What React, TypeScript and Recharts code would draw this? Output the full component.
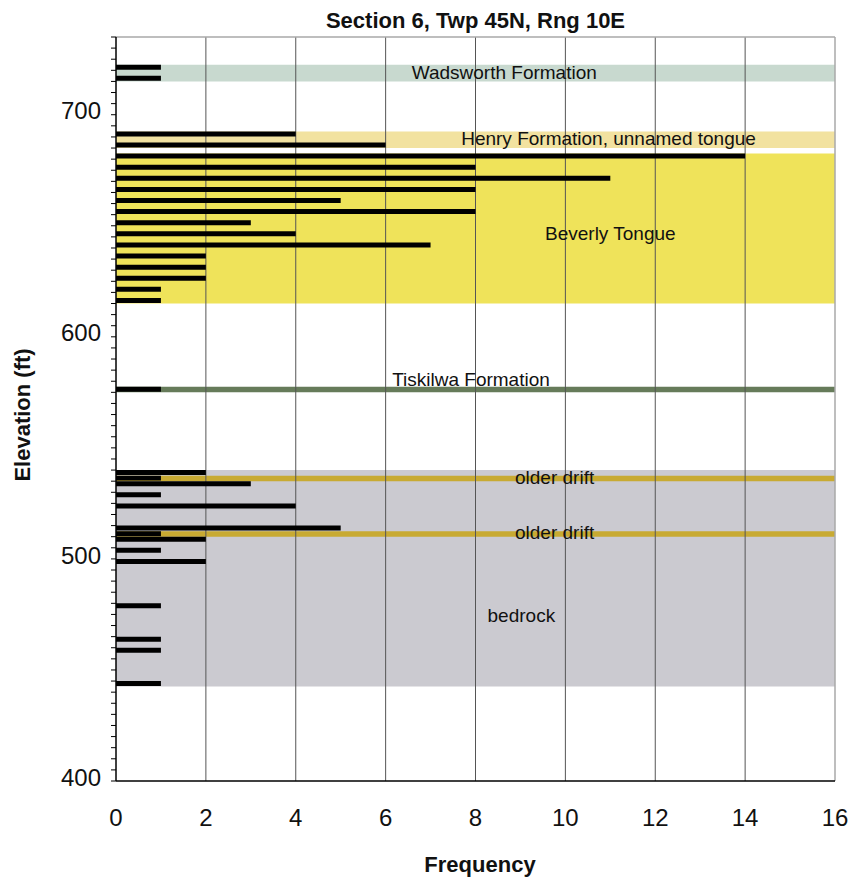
import React from "react";
import {
  BarChart,
  Bar,
  XAxis,
  YAxis,
  ReferenceArea,
  ReferenceLine,
  ReferenceDot,
  Label,
} from "recharts";

// bin centres (ft) and well counts
const elevations = [
  721.25, 716.25, 691.25, 686.25, 681.25, 676.25, 671.25, 666.25, 661.25,
  656.25, 651.25, 646.25, 641.25, 636.25, 631.25, 626.25, 621.25, 616.25,
  576.25, 538.75, 536.25, 533.75, 528.75, 523.75, 513.75, 511.25, 508.75,
  503.75, 498.75, 478.75, 463.75, 458.75, 443.75,
];
const frequencies = [
  1, 1, 4, 6, 14, 8, 11, 8, 5, 8, 3, 4, 7, 2, 2, 2, 1, 1, 1, 2, 1, 3, 1, 4, 5,
  1, 2, 1, 2, 1, 1, 1, 1,
];

// formation intervals (ft)
const unitNames = [
  "Wadsworth Formation",
  "Henry Formation, unnamed tongue",
  "Beverly Tongue",
  "Tiskilwa Formation",
  "bedrock",
  "older drift",
  "older drift",
];
const unitBottoms = [715, 685, 615, 575, 442.5, 535, 510];
const unitTops = [722.5, 692.5, 682.5, 577.5, 540, 537.5, 512.5];

const xTicks = [0, 2, 4, 6, 8, 10, 12, 14, 16];
const yMajorTicks = [400, 500, 600, 700];

// styling / label placement
const unitColors = [
  "#c8d9cf",
  "#f2e2a0",
  "#efe35a",
  "#667b5a",
  "#cbcad0",
  "#c8aa32",
  "#c8aa32",
];
const labelX = [8.64, 10.96, 11.0, 7.9, 9.02, 9.76, 9.76];
const labelY = [719.1, 689.6, 646.5, 581, 474.8, 536.8, 512];

const FONT = "'Liberation Sans', Arial, Helvetica, sans-serif";

const yTicks: number[] = [];
for (let v = 400; v <= 735; v += 5) yTicks.push(v);

const data = elevations.map((elev, i) => ({ elev, freq: frequencies[i] }));

const YTick = (props: any) => {
  const { x, y, payload } = props;
  if (!yMajorTicks.includes(payload.value)) return null;
  return (
    <text
      x={x}
      y={y - 4}
      dy="0.36em"
      textAnchor="end"
      fontSize={24}
      fill="#111"
      fontFamily={FONT}
    >
      {payload.value}
    </text>
  );
};

const YTitle = () => (
  <text
    x={14}
    y={407}
    transform="rotate(-90, 14, 407)"
    textAnchor="middle"
    dominantBaseline="central"
    fontSize={22}
    fontWeight="bold"
    fill="#111"
    fontFamily={FONT}
  >
    Elevation (ft)
  </text>
);

export default function App() {
  return (
    <div style={{ position: "relative", width: 843, height: 872, fontFamily: FONT }}>
      <style>{"body { margin: 8px 0 0 8px; } .recharts-surface { overflow: visible; }"}</style>
      <div
        style={{
          position: "absolute",
          left: 108,
          top: 0,
          width: 719,
          textAlign: "center",
          fontSize: 22,
          fontWeight: "bold",
          color: "#111",
          zIndex: 1,
        }}
      >
        Section 6, Twp 45N, Rng 10E
      </div>
      <BarChart
        width={843}
        height={872}
        data={data}
        layout="vertical"
        margin={{ top: 29, right: 16, left: 0, bottom: 0 }}
        style={{ fontFamily: FONT }}
      >
        {unitNames.map((name, i) => (
          <ReferenceArea
            key={"a" + i}
            x1={0}
            x2={16}
            y1={unitBottoms[i]}
            y2={unitTops[i]}
            fill={unitColors[i]}
            fillOpacity={1}
            stroke="none"
          />
        ))}
        {xTicks.slice(1, -1).map((t) => (
          <ReferenceLine key={"g" + t} x={t} stroke="#555" strokeWidth={1} zIndex={200} />
        ))}
        <ReferenceLine x={16} stroke="#a8a8a8" strokeWidth={1.5} zIndex={200} />
        <ReferenceLine y={735} stroke="#a8a8a8" strokeWidth={1.5} zIndex={200} />
        <XAxis
          type="number"
          dataKey="freq"
          domain={[0, 16]}
          ticks={xTicks}
          interval={0}
          tickLine={false}
          tickSize={0}
          tickMargin={28}
          axisLine={{ stroke: "#000", strokeWidth: 1.5 }}
          tick={{ fontSize: 24, fill: "#111", fontFamily: FONT }}
          height={99}
        />
        <YAxis
          type="number"
          dataKey="elev"
          domain={[400, 735]}
          reversed
          ticks={yTicks}
          interval={0}
          tickSize={5}
          tickMargin={10}
          tickLine={{ stroke: "#000" }}
          axisLine={{ stroke: "#000", strokeWidth: 1.5 }}
          tick={<YTick />}
          width={108}
        >
          <Label content={<YTitle />} />
        </YAxis>
        <Bar dataKey="freq" fill="#000" barSize={6} isAnimationActive={false} />
        {unitNames.map((name, i) => (
          <ReferenceDot
            key={"l" + i}
            x={labelX[i]}
            y={labelY[i]}
            r={0}
            fill="none"
            stroke="none"
            label={{
              value: name,
              position: "center",
              fontSize: 19,
              fill: "#111",
              fontFamily: FONT,
            }}
          />
        ))}
      </BarChart>
      <div
        style={{
          position: "absolute",
          left: 112,
          top: 845,
          width: 720,
          textAlign: "center",
          fontSize: 22,
          lineHeight: "24px",
          fontWeight: "bold",
          color: "#111",
        }}
      >
        Frequency
      </div>
    </div>
  );
}
